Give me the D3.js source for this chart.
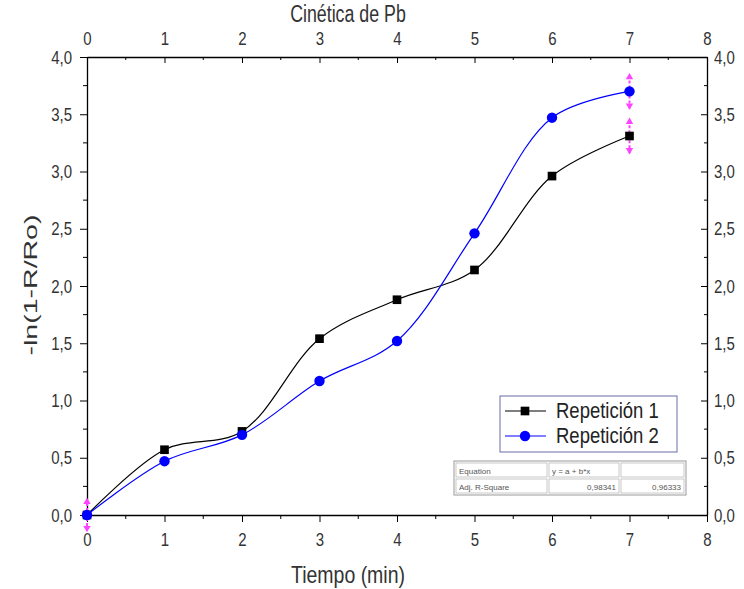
<!DOCTYPE html>
<html>
<head>
<meta charset="utf-8">
<script src="https://cdn.jsdelivr.net/npm/d3@7"></script>
<style>
  body { margin: 0; background: #fff; }
  text { font-family: "Liberation Sans", Arial, sans-serif; }
</style>
</head>
<body>
<div class="container"></div>
<script>
const tiempo = [0, 1, 2, 3, 4, 5, 6, 7]
const repeticion1 = [0, 0.57, 0.73, 1.54, 1.88, 2.14, 2.96, 3.31]
const repeticion2 = [0, 0.47, 0.70, 1.17, 1.52, 2.46, 3.47, 3.70]
const errores = [[0, 0, 0.14], [7, 3.31, 0.15], [7, 3.70, 0.15]]  // x, y, +/-
const xTicks = [0, 1, 2, 3, 4, 5, 6, 7, 8]
const yTicks = [0, 0.5, 1, 1.5, 2, 2.5, 3, 3.5, 4]
const tabla = [['Equation', 'y = a + b*x', ''], ['Adj. R-Square', '0,98341', '0,96333']]

const w = 744
const h = 589
const pLeft = 87, pRight = 707, pTop = 57, pBottom = 515
const titleX = 348

const svg = d3.select('.container')
    .append('svg')
    .attr('width', w)
    .attr('height', h)

// the source picture is squashed sideways, so text is drawn a bit taller than wide
const stretchText = (sel, s) => {
    sel.each(function () {
        const t = d3.select(this)
        const ax = +t.attr('x') || 0
        const ay = +t.attr('y') || 0
        t.attr('transform', `translate(${ax},${ay}) scale(1,${s}) translate(${-ax},${-ay})`)
    })
}

const x = d3.scaleLinear().domain([0, 8]).range([pLeft, pRight])
const y = d3.scaleLinear().domain([0, 4]).range([pBottom, pTop])
const fmt = d => d3.format('.1f')(d).replace('.', ',')
const minorX = d3.range(0.5, 8, 1)
const minorY = d3.range(0.25, 4, 0.5)

// axes
const bottomAxis = svg.append('g')
    .attr('transform', 'translate(0,' + pBottom + ')')
    .call(d3.axisBottom(x).tickValues(xTicks).tickSize(7).tickPadding(11).tickSizeOuter(0))
const topAxis = svg.append('g')
    .attr('transform', 'translate(0,' + pTop + ')')
    .call(d3.axisTop(x).tickValues(xTicks).tickSize(-6).tickPadding(12).tickSizeOuter(0))
const leftAxis = svg.append('g')
    .attr('transform', 'translate(' + pLeft + ',0)')
    .call(d3.axisLeft(y).tickValues(yTicks).tickFormat(fmt).tickSize(7).tickPadding(8).tickSizeOuter(0))
const rightAxis = svg.append('g')
    .attr('transform', 'translate(' + pRight + ',0)')
    .call(d3.axisRight(y).tickValues(yTicks).tickFormat(fmt).tickSize(-6).tickPadding(7).tickSizeOuter(0))

bottomAxis.selectAll('.minor').data(minorX).enter().append('line')
    .attr('x1', d => x(d)).attr('x2', d => x(d)).attr('y1', 0).attr('y2', 4).attr('stroke', '#000')
topAxis.selectAll('.minor').data(minorX).enter().append('line')
    .attr('x1', d => x(d)).attr('x2', d => x(d)).attr('y1', 0).attr('y2', 3).attr('stroke', '#000')
leftAxis.selectAll('.minor').data(minorY).enter().append('line')
    .attr('y1', d => y(d)).attr('y2', d => y(d)).attr('x1', 0).attr('x2', -4).attr('stroke', '#000')
rightAxis.selectAll('.minor').data(minorY).enter().append('line')
    .attr('y1', d => y(d)).attr('y2', d => y(d)).attr('x1', 0).attr('x2', -3).attr('stroke', '#000')

svg.selectAll('.domain').attr('stroke', '#000').attr('stroke-width', 1.3)
svg.selectAll('.tick text').attr('fill', '#333')
    .style('font-size', '15px')
    .style('font-family', '"Liberation Sans", Arial, sans-serif')
stretchText(svg.selectAll('.tick text'), 1.25)

// titles
svg.append('text').text('Cinética de Pb')
    .attr('x', titleX).attr('y', 22.5)
    .attr('text-anchor', 'middle').style('font-size', '17.8px').attr('fill', '#333')
    .call(stretchText, 1.3)
svg.append('text').text('Tiempo (min)')
    .attr('x', titleX).attr('y', 583)
    .attr('text-anchor', 'middle').style('font-size', '19.5px').attr('fill', '#333')
    .call(stretchText, 1.2)
svg.append('text').text('-ln(1-R/Ro)')
    .attr('transform', 'translate(37,285) scale(1,1.5) rotate(-90)')
    .attr('text-anchor', 'middle').style('font-size', '19px').attr('fill', '#333')

// error bars
const eb = svg.append('g')
errores.forEach(e => {
    eb.append('line')
        .attr('x1', x(e[0])).attr('x2', x(e[0]))
        .attr('y1', y(e[1] - e[2])).attr('y2', y(e[1] + e[2]))
        .attr('stroke', '#ff44ff').attr('stroke-width', 2).attr('stroke-dasharray', '3,2')
    eb.append('path')
        .attr('d', d3.symbol(d3.symbolTriangle, 24)())
        .attr('transform', 'translate(' + x(e[0]) + ',' + (y(e[1] + e[2]) + 3) + ')')
        .attr('fill', '#ff44ff')
    eb.append('path')
        .attr('d', d3.symbol(d3.symbolTriangle, 24)())
        .attr('transform', 'translate(' + x(e[0]) + ',' + (y(e[1] - e[2]) - 3) + ') rotate(180)')
        .attr('fill', '#ff44ff')
})

// series
const series = [
    { name: 'Repetición 1', values: repeticion1, color: '#000', symbol: d3.symbolSquare, size: 75 },
    { name: 'Repetición 2', values: repeticion2, color: '#0000ff', symbol: d3.symbolCircle, size: 85 }
]
const line = d3.line()
    .x((d, i) => x(tiempo[i]))
    .y(d => y(d))
    .curve(d3.curveCatmullRom.alpha(0.5))

series.forEach(s => {
    svg.append('path')
        .datum(s.values)
        .attr('d', line)
        .attr('fill', 'none')
        .attr('stroke', s.color)
        .attr('stroke-width', 1.2)
    svg.append('g').selectAll('path')
        .data(s.values)
        .enter()
        .append('path')
        .attr('d', d3.symbol(s.symbol, s.size)())
        .attr('transform', (d, i) => 'translate(' + x(tiempo[i]) + ',' + y(d) + ')')
        .attr('fill', s.color)
})

// legend
const legend = svg.append('g').attr('transform', 'translate(500,396)')
legend.append('rect')
    .attr('width', 177).attr('height', 56)
    .attr('fill', '#fff').attr('stroke', '#6a6aa8').attr('stroke-width', 1)
series.forEach((s, i) => {
    const ly = 15 + i * 25
    legend.append('line')
        .attr('x1', 5).attr('x2', 46).attr('y1', ly).attr('y2', ly)
        .attr('stroke', s.color).attr('stroke-width', 1.2)
    legend.append('path')
        .attr('d', d3.symbol(s.symbol, s.size)())
        .attr('transform', 'translate(25,' + ly + ')')
        .attr('fill', s.color)
    legend.append('text').text(s.name)
        .attr('x', 56).attr('y', ly + 7)
        .style('font-size', '18.5px').attr('fill', '#222')
        .call(stretchText, 1.15)
})

// table
const tb = svg.append('g').attr('transform', 'translate(455,462)')
const colX = [0, 93, 165, 230]
const rowH = 16
tb.append('rect').attr('x', -1).attr('y', -1).attr('width', 232).attr('height', rowH * 2 + 2)
    .attr('fill', '#fff').attr('stroke', '#999')
tabla.forEach((row, r) => {
    row.forEach((cell, c) => {
        tb.append('rect')
            .attr('x', colX[c] + 1).attr('y', r * rowH + 1)
            .attr('width', colX[c + 1] - colX[c] - 2).attr('height', rowH - 2)
            .attr('fill', 'none').attr('stroke', '#bbb').attr('stroke-width', 0.8)
        const numeric = r === 1 && c > 0
        tb.append('text').text(cell)
            .attr('x', numeric ? colX[c + 1] - 4 : colX[c] + 4)
            .attr('y', r * rowH + 11.5)
            .attr('text-anchor', numeric ? 'end' : 'start')
            .style('font-size', '8px').attr('fill', '#555')
    })
})
</script>
</body>
</html>
